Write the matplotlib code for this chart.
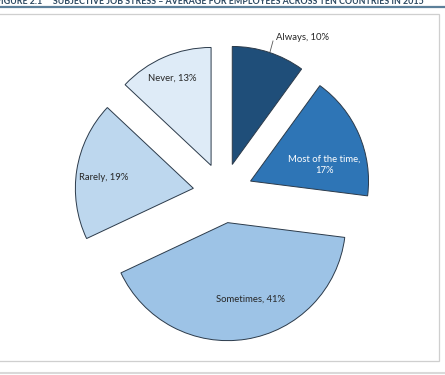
import matplotlib.pyplot as plt
from matplotlib.patches import Rectangle

# Share of employees by how often they feel job stress (percent)
categories = ["Always", "Most of the time", "Sometimes", "Rarely", "Never"]
shares = [10, 17, 41, 19, 13]
colors = ["#1F4E79", "#2E75B6", "#9DC3E6", "#BDD7EE", "#DEEBF7"]
label_text = ["Always, 10%", "Most of the time,\n17%", "Sometimes, 41%",
              "Rarely, 19%", "Never, 13%"]
label_color = ["#262626", "white", "#262626", "#262626", "#262626"]
# label positions in screen pixels (x, y from top)
label_pos = [(302, 37), (324, 165), (250, 299), (104, 177), (172, 78)]

title = "FIGURE 2.1     SUBJECTIVE JOB STRESS \u2013 AVERAGE FOR EMPLOYEES ACROSS TEN COUNTRIES IN 2015"

W, H = 445, 375
fig = plt.figure(figsize=(W / 100, H / 100), dpi=100)
ax = fig.add_axes([0, 0, 1, 1])

def sy(y):
    return H - y

r = 118
ax.pie(shares, colors=colors, startangle=90, counterclock=False,
       explode=[30] * len(shares), radius=r, center=(223, sy(193)),
       wedgeprops=dict(edgecolor="#2B3A4A", linewidth=0.7), frame=True)
ax.set_xlim(0, W)
ax.set_ylim(0, H)
ax.set_aspect("equal")
ax.axis("off")

# chart frame, title rule and bottom rule
ax.add_patch(Rectangle((-5, sy(361)), 444, 347, fill=False, ec="#CFCFCF", lw=0.9))
ax.plot([0, W], [sy(7), sy(7)], color="#5C7F99", lw=1.6)
ax.plot([0, W], [sy(373), sy(373)], color="#D9D9D9", lw=1.5)
ax.text(-4, sy(4.5), title, fontsize=6.4, fontweight="bold", color="#2E4A62",
        family="Lato", va="baseline", ha="left")

for txt, (x, y), c in zip(label_text, label_pos, label_color):
    ax.text(x, sy(y), txt, fontsize=6.8, color=c, family="Lato",
            ha="center", va="center", linespacing=1.35)

# leader line for the "Always" label
ax.plot([270, 273], [sy(52), sy(41)], color="#595959", lw=0.6)

fig.savefig("out.png", dpi=100)
